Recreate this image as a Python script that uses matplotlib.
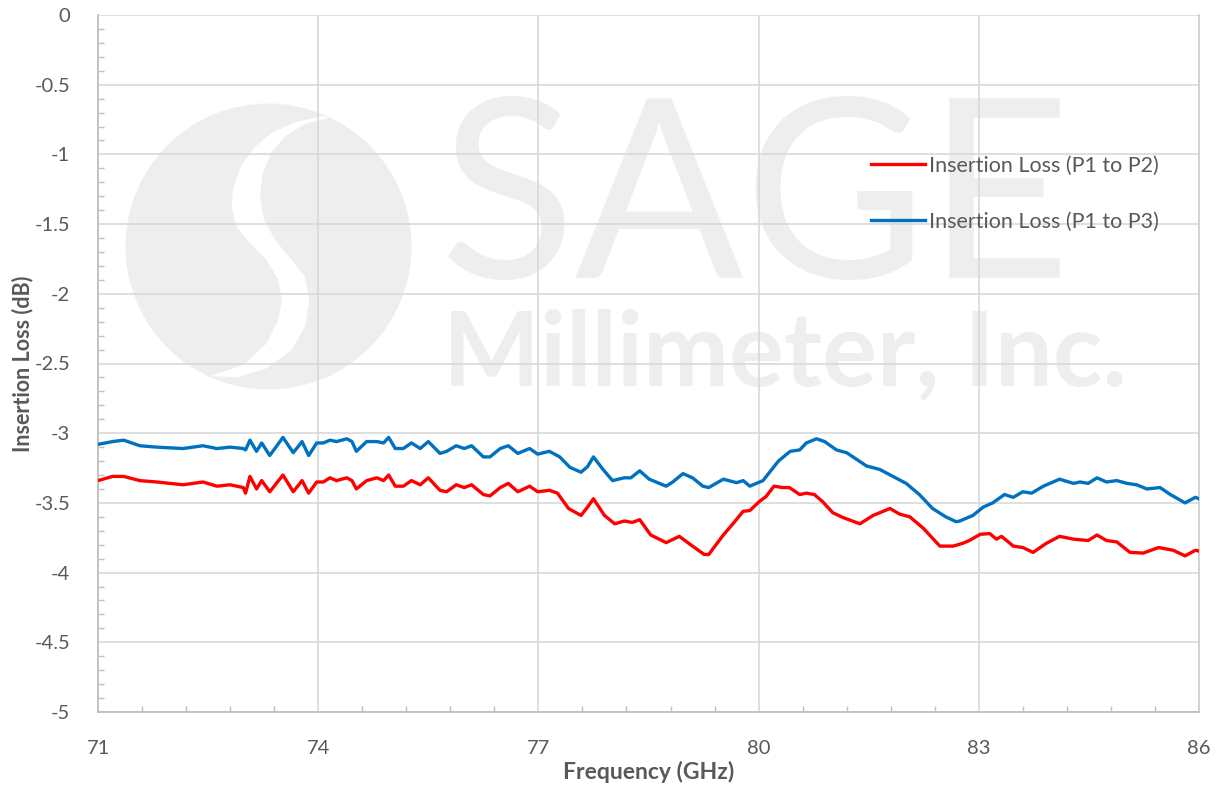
import numpy as np
import matplotlib
matplotlib.use('Agg')
import matplotlib.pyplot as plt
from matplotlib.patches import Circle, Polygon

# --------------------------------------------------------------------------- #
# Data
# --------------------------------------------------------------------------- #
freqP3 = [71.00, 71.20, 71.35, 71.57, 71.80, 72.16, 72.43, 72.62, 72.80, 72.98,
          73.01, 73.07, 73.16, 73.23, 73.34, 73.52, 73.66, 73.78, 73.87, 73.98,
          74.07, 74.16, 74.25, 74.39, 74.46, 74.52, 74.66, 74.80, 74.89, 74.96,
          75.05, 75.16, 75.27, 75.39, 75.50, 75.66, 75.75, 75.88, 75.99, 76.09,
          76.25, 76.34, 76.48, 76.59, 76.72, 76.88, 76.99, 77.15, 77.29, 77.43,
          77.58, 77.67, 77.75, 77.88, 78.01, 78.17, 78.26, 78.38, 78.51, 78.74,
          78.83, 78.97, 79.10, 79.24, 79.32, 79.52, 79.70, 79.79, 79.88, 80.06,
          80.15, 80.27, 80.43, 80.56, 80.65, 80.79, 80.90, 81.06, 81.20, 81.47,
          81.65, 81.83, 82.01, 82.19, 82.37, 82.55, 82.69, 82.74, 82.92, 83.06,
          83.19, 83.35, 83.47, 83.60, 83.72, 83.88, 84.10, 84.29, 84.38, 84.49,
          84.61, 84.74, 84.88, 85.02, 85.15, 85.29, 85.47, 85.61, 85.81, 85.95,
          86.00]
lossP3 = [-3.08, -3.06, -3.05, -3.09, -3.10, -3.11, -3.09, -3.11, -3.10, -3.11,
          -3.12, -3.05, -3.13, -3.07, -3.16, -3.03, -3.14, -3.06, -3.16, -3.07,
          -3.07, -3.05, -3.06, -3.04, -3.06, -3.13, -3.06, -3.06, -3.07, -3.03,
          -3.11, -3.11, -3.07, -3.11, -3.06, -3.145, -3.13, -3.09, -3.11, -3.09,
          -3.17, -3.17, -3.11, -3.09, -3.145, -3.11, -3.15, -3.13, -3.17, -3.245,
          -3.28, -3.24, -3.17, -3.26, -3.34, -3.32, -3.32, -3.27, -3.33, -3.38,
          -3.35, -3.29, -3.32, -3.38, -3.39, -3.33, -3.355, -3.34, -3.38, -3.34,
          -3.28, -3.20, -3.13, -3.12, -3.07, -3.04, -3.06, -3.12, -3.14, -3.235,
          -3.26, -3.31, -3.36, -3.44, -3.54, -3.60, -3.635, -3.63, -3.59, -3.53,
          -3.50, -3.44, -3.46, -3.42, -3.43, -3.38, -3.33, -3.36, -3.35, -3.36,
          -3.32, -3.35, -3.34, -3.36, -3.37, -3.40, -3.39, -3.44, -3.50, -3.46,
          -3.47]

freqP2 = [71.00, 71.20, 71.35, 71.57, 71.80, 72.16, 72.43, 72.62, 72.80, 72.98,
          73.01, 73.07, 73.16, 73.23, 73.34, 73.52, 73.66, 73.78, 73.87, 73.98,
          74.07, 74.16, 74.25, 74.39, 74.46, 74.52, 74.66, 74.80, 74.89, 74.96,
          75.05, 75.16, 75.27, 75.39, 75.50, 75.66, 75.75, 75.88, 75.99, 76.09,
          76.25, 76.34, 76.48, 76.59, 76.72, 76.88, 76.99, 77.15, 77.26, 77.41,
          77.58, 77.67, 77.75, 77.90, 78.04, 78.17, 78.28, 78.38, 78.53, 78.74,
          78.92, 79.10, 79.26, 79.32, 79.52, 79.65, 79.79, 79.88, 80.01, 80.10,
          80.21, 80.33, 80.42, 80.56, 80.65, 80.76, 80.87, 81.01, 81.15, 81.38,
          81.56, 81.79, 81.92, 82.06, 82.24, 82.47, 82.65, 82.78, 82.87, 83.02,
          83.15, 83.24, 83.31, 83.47, 83.60, 83.74, 83.92, 84.10, 84.29, 84.49,
          84.61, 84.74, 84.88, 85.06, 85.24, 85.45, 85.65, 85.81, 85.95, 86.00]
lossP2 = [-3.34, -3.31, -3.31, -3.34, -3.35, -3.37, -3.35, -3.38, -3.37, -3.39,
          -3.43, -3.31, -3.40, -3.34, -3.42, -3.30, -3.42, -3.34, -3.43, -3.35,
          -3.35, -3.32, -3.34, -3.32, -3.34, -3.40, -3.34, -3.32, -3.34, -3.30,
          -3.38, -3.38, -3.34, -3.37, -3.32, -3.41, -3.42, -3.37, -3.39, -3.37,
          -3.44, -3.45, -3.39, -3.36, -3.42, -3.38, -3.42, -3.41, -3.43, -3.54,
          -3.59, -3.53, -3.47, -3.59, -3.65, -3.63, -3.64, -3.62, -3.73, -3.785,
          -3.74, -3.81, -3.87, -3.87, -3.73, -3.65, -3.56, -3.555, -3.49, -3.455,
          -3.38, -3.39, -3.39, -3.44, -3.43, -3.44, -3.49, -3.57, -3.605, -3.65,
          -3.59, -3.54, -3.58, -3.60, -3.68, -3.81, -3.81, -3.79, -3.77, -3.725,
          -3.72, -3.76, -3.74, -3.81, -3.82, -3.855, -3.79, -3.74, -3.76, -3.77,
          -3.73, -3.77, -3.78, -3.855, -3.86, -3.82, -3.84, -3.88, -3.84, -3.845]

labels = ["Insertion Loss (P1 to P2)", "Insertion Loss (P1 to P3)"]
xticks = [71, 74, 77, 80, 83, 86]
yticks = [0, -0.5, -1, -1.5, -2, -2.5, -3, -3.5, -4, -4.5, -5]

# --------------------------------------------------------------------------- #
# Figure
# --------------------------------------------------------------------------- #
plt.rcParams['font.family'] = ['Lato', 'DejaVu Sans']
txt = '#595959'
wm = '#eeeeee'

W, H = 1218, 787
fig = plt.figure(figsize=(W/100, H/100), dpi=100)

# watermark layer in pixel coordinates
bg = fig.add_axes([0, 0, 1, 1], zorder=0)
bg.set_xlim(0, W); bg.set_ylim(H, 0); bg.axis('off')
bg.add_patch(Circle((268.5, 246.5), 143, color=wm, lw=0))
sx = [640, 560, 490, 435, 395, 370, 365, 380, 420, 470, 505, 515, 505, 470, 400, 300,
      380, 470, 545, 585, 598, 585, 545, 495, 462, 450, 458, 485, 530, 590, 660]
sy = [108, 125, 155, 200, 255, 320, 380, 440, 490, 540, 600, 660, 720, 790, 855, 888,
      892, 865, 810, 740, 660, 590, 540, 480, 420, 350, 280, 215, 165, 130, 112]
pts = [(110 + a/3.0, 80 + b/3.0) for a, b in zip(sx, sy)]
bg.add_patch(Polygon(pts, closed=True, color='white', lw=0))
bg.text(440, 278, "SAGE", fontsize=180, color=wm, ha='left', va='baseline')
bg.text(443, 385, "Millimeter, Inc.", fontsize=74, color=wm, ha='left',
        va='baseline', fontweight='bold')

ax = fig.add_axes([98/W, 1 - 712/H, (1199 - 98)/W, (712 - 15)/H], zorder=1)
ax.patch.set_alpha(0)

lw = 2.4
ax.plot(freqP2, lossP2, color='#ff0000', lw=lw, label=labels[0], zorder=3)
ax.plot(freqP3, lossP3, color='#0070c0', lw=lw, label=labels[1], zorder=3)

ax.set_xlim(71, 86)
ax.set_ylim(-5, 0)
ax.set_xticks(xticks)
ax.set_xticklabels([str(t) for t in xticks])
ax.set_yticks(yticks)
ax.set_yticklabels(["{:g}".format(t) for t in yticks])
ax.set_xticks(np.arange(71, 86.01, 0.6), minor=True)
ax.set_yticks(np.arange(-5, 0.01, 0.1), minor=True)

ax.grid(True, which='major', color='#d9d9d9', lw=1.2, zorder=0)
ax.tick_params(which='major', length=0, labelsize=14.5, colors=txt)
ax.tick_params(which='minor', direction='in', length=4, width=1, color='#bfbfbf')
ax.tick_params(axis='x', which='major', pad=20)
ax.tick_params(axis='y', which='major', pad=20)

ax.spines['top'].set_visible(False)
ax.spines['right'].set_color('#d0d0d0')
ax.spines['left'].set_color('#bfbfbf')
ax.spines['bottom'].set_color('#bfbfbf')
for s in ['left', 'bottom', 'right']:
  ax.spines[s].set_linewidth(1.3)

ax.set_xlabel("Frequency (GHz)", fontsize=16.5, fontweight='bold', color=txt,
              labelpad=3)
ax.set_ylabel("Insertion Loss (dB)", fontsize=15.5, fontweight='bold', color=txt,
              labelpad=1)

leg = ax.legend(loc='upper left', bbox_to_anchor=(871/W, 1 - 156/H),
                bbox_transform=fig.transFigure, frameon=False, fontsize=15.5,
                handlelength=2.5, handletextpad=0.2, labelspacing=1.65,
                borderpad=0, borderaxespad=0)
for t in leg.get_texts():
  t.set_color(txt)

fig.savefig('out.png', dpi=100)
